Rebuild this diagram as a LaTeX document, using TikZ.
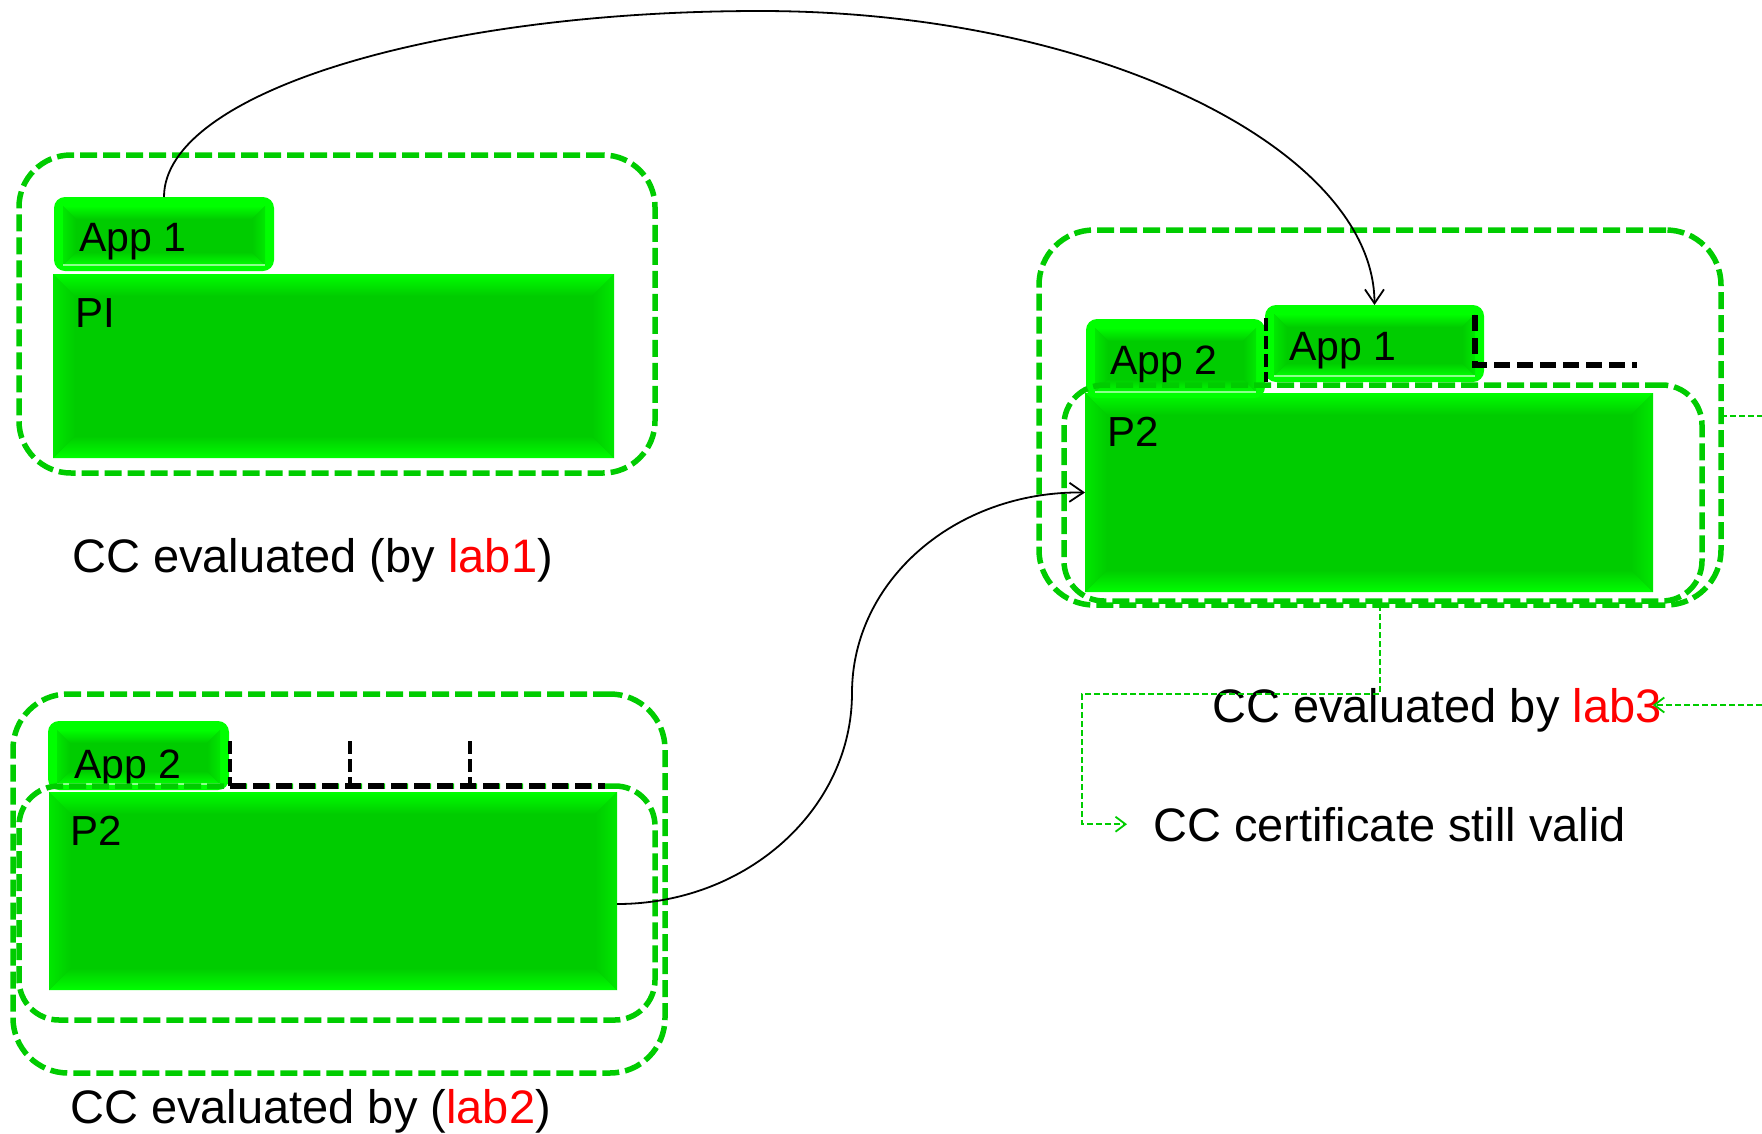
\documentclass[tikz,border=0pt]{standalone}
\usepackage{fontspec}
\setmainfont{Liberation Sans}
\usetikzlibrary{arrows.meta}

\definecolor{gbase}{RGB}{0,204,0}
\definecolor{glime}{RGB}{0,255,0}
\definecolor{gside}{RGB}{0,232,0}
\definecolor{gline}{RGB}{0,204,0}
\definecolor{labred}{RGB}{255,0,0}

% bevelled green block: x1, y1, x2, y2, bevel width
\newcommand\greenbevel[5]{%
  \fill[gbase] (#1,#2) rectangle (#3,#4);
  \shade[top color=glime, bottom color=gbase]
    (#1,#2) -- (#3,#2) -- ({#3-#5},{#2+#5}) -- ({#1+#5},{#2+#5}) -- cycle;
  \shade[bottom color=glime, top color=gbase]
    (#1,#4) -- (#3,#4) -- ({#3-#5},{#4-#5}) -- ({#1+#5},{#4-#5}) -- cycle;
  \shade[left color=gside, right color=gbase]
    (#1,#2) -- ({#1+#5},{#2+#5}) -- ({#1+#5},{#4-#5}) -- (#1,#4) -- cycle;
  \shade[right color=gside, left color=gbase]
    (#3,#2) -- ({#3-#5},{#2+#5}) -- ({#3-#5},{#4-#5}) -- (#3,#4) -- cycle;
}

% application tab: glowing rounded frame with a bevelled face
\newcommand\apptab[4]{%
  \fill[glime, rounded corners=11pt] (#1,#2) rectangle (#3,#4);
  \greenbevel{#1+9}{#2+9}{#3-9}{#4-6}{13}
  \draw[white!55!glime, line width=1.2pt] ({#1+9},{#4-6}) -- ({#3-9},{#4-6});
}

\begin{document}
\begin{tikzpicture}[x=1pt, y=-1pt,
  holder/.style={inner sep=0pt, outer sep=0pt, anchor=north west},
  grp/.style={holder, draw=gline, line width=5.5pt,
    dash pattern=on 17pt off 6pt, rounded corners=#1},
  captext/.style={anchor=base west, inner sep=0pt,
    font=\fontsize{47pt}{56pt}\selectfont},
  tablabel/.style={anchor=base west, inner sep=0pt,
    font=\fontsize{41pt}{48pt}\selectfont},
  plabel/.style={anchor=base west, inner sep=0pt,
    font=\fontsize{42pt}{50pt}\selectfont},
  conn/.style={black, line width=1.8pt,
    -{Straight Barb[length=14pt, width=19pt, line width=1.8pt]}},
  gconn/.style={gline, line width=1.8pt, dash pattern=on 6pt off 3pt},
  garrow/.style={gconn, -{Straight Barb[length=10pt, width=15pt, line width=1.8pt]}},
  bkthick/.style={black, line width=5.5pt, dash pattern=on 16pt off 7pt},
  bkthin/.style={black, line width=3.2pt, dash pattern=on 13pt off 5pt},
]
\useasboundingbox (0,0) rectangle (1762,1133);

% ---------- green blocks ----------
\greenbevel{53}{274}{614}{458}{22}
\node[holder, minimum width=561pt, minimum height=184pt] (pi) at (53,274) {};
\apptab{54}{197}{274}{271}
\node[holder, minimum width=220pt, minimum height=74pt] (tabA) at (54,197) {};

\greenbevel{49}{792}{617}{990}{22}
\node[holder, minimum width=568pt, minimum height=198pt] (pb) at (49,792) {};
\apptab{48}{721}{229}{790}
\node[holder, minimum width=181pt, minimum height=69pt] (tabB) at (48,721) {};

\greenbevel{1085}{393}{1653}{592}{22}
\node[holder, minimum width=568pt, minimum height=199pt] (pr) at (1085,393) {};
\apptab{1086}{319}{1265}{398}
\node[holder, minimum width=179pt, minimum height=79pt] (tabC) at (1086,319) {};
\apptab{1265}{305}{1484}{382}
\node[holder, minimum width=219pt, minimum height=77pt] (tabD) at (1265,305) {};

% ---------- labels on the blocks ----------
\node[tablabel] (lA) at (79,251) {App 1};
\node[plabel] (lpi) at (75,327) {PI};
\node[tablabel] (lB) at (74,778) {App 2};
\node[plabel] (lpb) at (70,845) {P2};
\node[tablabel] (lC) at (1110,374) {App 2};
\node[tablabel] (lD) at (1289,360) {App 1};
\node[plabel] (lpr) at (1107,446) {P2};

% ---------- dashed group frames ----------
\node[grp=52pt, minimum width=636pt, minimum height=318pt] (gTL) at (19,155) {};
\node[grp=55pt, minimum width=652pt, minimum height=379pt] (gBLo) at (13,694) {};
\node[grp=40pt, minimum width=636pt, minimum height=234pt] (gBLi) at (19,786) {};
\node[grp=55pt, minimum width=682pt, minimum height=375pt] (gRo) at (1039,230) {};
\node[grp=40pt, minimum width=638pt, minimum height=216pt] (gRi) at (1064,385) {};

% ---------- black dashed slots ----------
\draw[bkthin] (230,741) -- (230,786);
\draw[bkthin] (350,741) -- (350,786);
\draw[bkthin] (470,741) -- (470,786);
\draw[bkthick] (230,786) -- (605,786);
\draw[bkthin] (1266,318) -- (1266,382);
\draw[bkthick] (1475,315) -- (1475,365) -- (1637,365);

% ---------- captions ----------
\node[captext] (c1) at (72,572) {CC evaluated (by \textcolor{labred}{lab1})};
\node[captext] (c2) at (70,1123) {CC evaluated by (\textcolor{labred}{lab2})};
\node[captext] (c3) at (1212,722) {CC evaluated by \textcolor{labred}{lab3}};
\node[captext] (cert) at (1153,841) {CC certificate still valid};

% ---------- moves of applications ----------
\draw[conn] (tabA.north) .. controls (164,94) and (431,11) .. (760,11)
  .. controls (1098,11) and (1374,150) .. (tabD.north);
\draw[conn] ([yshift=-13pt]pb.east) .. controls (747,904) and (852,809) .. (852,693)
  .. controls (852,581) and (955,491) .. (pr.west);

% ---------- green dotted links ----------
\coordinate (rx) at (1762,416);
\coordinate (re) at (1762,705);
\draw[gconn] (gRo.east |- rx) -- (rx);
\draw[garrow] (gRo.south) -- (1380,694) -- (1082,694) |- ([xshift=-26pt]cert.west);
\draw[garrow] (re) -- ([xshift=-9pt]c3.east |- re);
\end{tikzpicture}
\end{document}
